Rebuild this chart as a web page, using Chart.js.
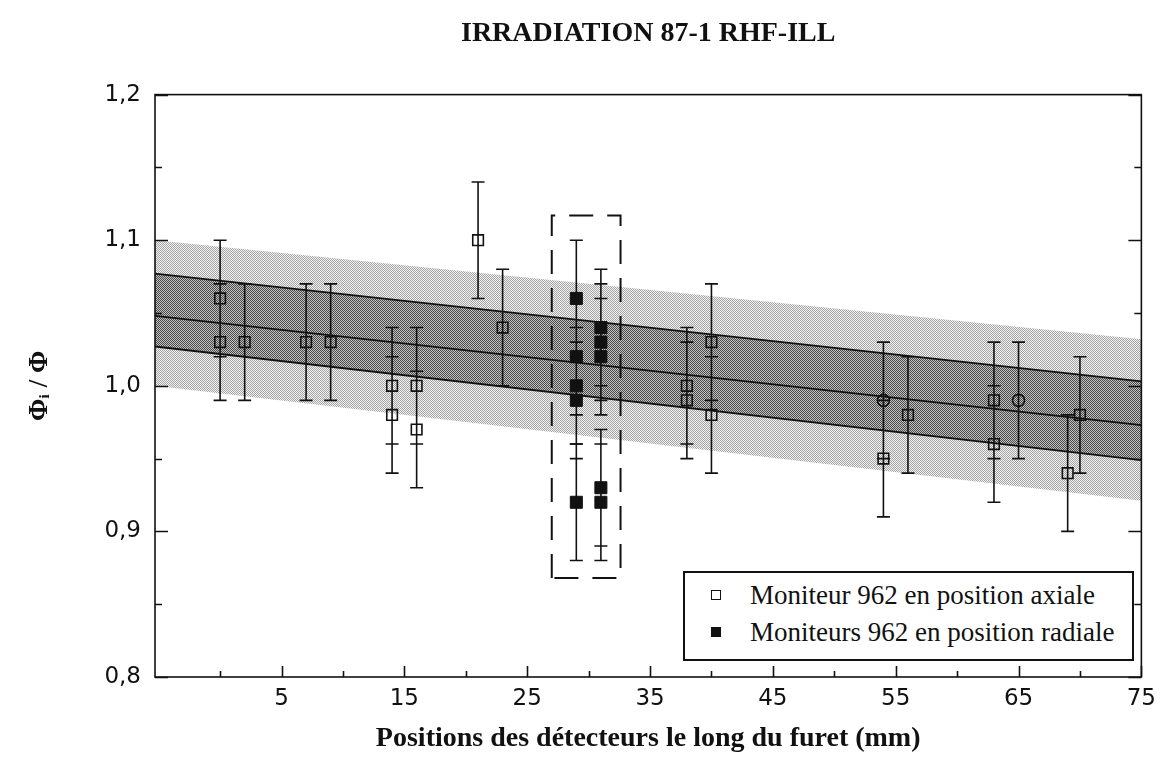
<!DOCTYPE html>
<html lang="fr">
<head>
<meta charset="utf-8">
<title>IRRADIATION 87-1 RHF-ILL</title>
<script src="https://cdn.jsdelivr.net/npm/chart.js@4.4.1/dist/chart.umd.min.js"></script>
<style>
    html, body { margin: 0; padding: 0; background: #fff; }
    #wrap { position: relative; width: 1164px; height: 760px; }
    #legendBox {
        position: absolute; left: 683px; top: 571px; width: 447px; height: 86px;
        border: 2px solid #111; background: #fff;
        font-family: 'Liberation Serif', 'Times New Roman', serif; font-size: 27px; color: #111;
    }
    .row { position: absolute; left: 0; height: 34px; line-height: 34px; white-space: nowrap; }
    .row span.mk { position: absolute; left: 26px; top: 12px; width: 8px; height: 8px; border: 1.5px solid #111; }
    .row span.mk.full { background: #111; }
    .row span.txt { position: absolute; left: 65px; top: 0; }
</style>
</head>
<body>
<div id="wrap">
    <canvas id="irrChart" width="1164" height="760"></canvas>
    <div id="legendBox">
        <div class="row" style="top:5px"><span class="mk"></span><span class="txt">Moniteur 962 en position axiale</span></div>
        <div class="row" style="top:42px"><span class="mk full"></span><span class="txt">Moniteurs 962 en position radiale</span></div>
    </div>
</div>
<script>
// --- données ---
const axialX   = [0, 0, 2, 7, 9, 14, 14, 16, 16, 21, 23, 38, 38, 40, 40, 54, 54, 56, 63, 63, 65, 69, 70];
const axialY   = [1.06, 1.03, 1.03, 1.03, 1.03, 1.00, 0.98, 1.00, 0.97, 1.10, 1.04, 1.00, 0.99, 1.03, 0.98, 0.99, 0.95, 0.98, 0.99, 0.96, 0.99, 0.94, 0.98];
const axialErr = [0.04, 0.04, 0.04, 0.04, 0.04, 0.04, 0.04, 0.04, 0.04, 0.04, 0.04, 0.04, 0.04, 0.04, 0.04, 0.04, 0.04, 0.04, 0.04, 0.04, 0.04, 0.04, 0.04];
const circledPoints = [15, 20];

const radialX   = [29, 29, 29, 29, 29, 31, 31, 31, 31, 31];
const radialY   = [1.06, 1.02, 1.00, 0.99, 0.92, 1.04, 1.03, 1.02, 0.93, 0.92];
const radialErr = [0.04, 0.04, 0.04, 0.04, 0.04, 0.04, 0.04, 0.04, 0.04, 0.04];

// bandes (ajustement linéaire et enveloppes), aux deux bords de l'axe
const bandX      = [-5.3, 75];
const outerUpper = [1.100, 1.032];
const outerLower = [1.000, 0.921];
const innerUpper = [1.077, 1.003];
const innerLower = [1.027, 0.949];
const fitLine    = [1.048, 0.973];

// cadre pointillé autour des moniteurs radiaux
const boxX = [27.0, 32.6];
const boxY = [0.868, 1.117];

// graduations
const xMajorTicks = [5, 15, 25, 35, 45, 55, 65, 75];
const xMinorTicks = [0, 10, 20, 30, 40, 50, 60, 70];
const yMajorTicks = [0.8, 0.9, 1.0, 1.1, 1.2];
const yMinorTicks = [0.85, 0.95, 1.05, 1.15];

const ink = '#111';

function makePattern(dot, bg) {
    const p = document.createElement('canvas');
    p.width = 2; p.height = 2;
    const g = p.getContext('2d');
    g.fillStyle = bg; g.fillRect(0, 0, 2, 2);
    g.fillStyle = dot; g.fillRect(0, 0, 1, 1); g.fillRect(1, 1, 1, 1);
    return g.createPattern(p, 'repeat');
}
const outerFill = makePattern('#a4a4a4', '#f2f2f2');
const innerFill = makePattern('#4c4c4c', '#c0c0c0');

const toPts = (xs, ys) => xs.map((x, i) => ({ x: x, y: ys[i] }));

const errorPts = [];
[[axialX, axialY, axialErr], [radialX, radialY, radialErr]].forEach(([xs, ys, es]) => {
    xs.forEach((x, i) => {
        errorPts.push({ x: x, y: ys[i] - es[i] }, { x: x, y: ys[i] + es[i] }, { x: x, y: null });
    });
});

const boxPts = [
    { x: boxX[0], y: boxY[0] }, { x: boxX[0], y: boxY[1] },
    { x: boxX[1], y: boxY[1] }, { x: boxX[1], y: boxY[0] }, { x: boxX[0], y: boxY[0] }
];

// cadre + graduations tournées vers l'intérieur
const frameTicks = {
    id: 'frameTicks',
    afterDatasetsDraw(chart) {
        const { ctx, chartArea: a, scales: { x, y } } = chart;
        ctx.save();
        ctx.strokeStyle = ink;
        ctx.lineWidth = 1.6;
        ctx.strokeRect(a.left, a.top, a.right - a.left, a.bottom - a.top);
        ctx.beginPath();
        const yt = (v, len) => {
            const py = Math.round(y.getPixelForValue(v)) + 0.5;
            ctx.moveTo(a.left, py); ctx.lineTo(a.left + len, py);
            ctx.moveTo(a.right, py); ctx.lineTo(a.right - len, py);
        };
        const xt = (v, len) => {
            const px = Math.round(x.getPixelForValue(v)) + 0.5;
            ctx.moveTo(px, a.bottom); ctx.lineTo(px, a.bottom - len);
        };
        yMajorTicks.forEach(v => yt(v, 13));
        yMinorTicks.forEach(v => yt(v, 7));
        xMajorTicks.forEach(v => xt(v, 11));
        xMinorTicks.forEach(v => xt(v, 6));
        ctx.stroke();
        ctx.restore();
    }
};

new Chart(document.getElementById('irrChart'), {
    type: 'scatter',
    data: {
        datasets: [
            { data: toPts(bandX, outerUpper), showLine: true, fill: 1, backgroundColor: outerFill, borderWidth: 0, pointRadius: 0, order: 10 },
            { data: toPts(bandX, outerLower), showLine: true, borderWidth: 0, pointRadius: 0, order: 10 },
            { data: toPts(bandX, innerUpper), showLine: true, fill: 3, backgroundColor: innerFill, borderColor: ink, borderWidth: 1.8, pointRadius: 0, order: 9 },
            { data: toPts(bandX, innerLower), showLine: true, borderColor: ink, borderWidth: 1.8, pointRadius: 0, order: 9 },
            { data: toPts(bandX, fitLine), showLine: true, borderColor: ink, borderWidth: 1.8, pointRadius: 0, order: 8 },
            { data: boxPts, showLine: true, borderColor: ink, borderWidth: 2, borderDash: [24, 14], pointRadius: 0, order: 7 },
            {
                data: errorPts, showLine: true, spanGaps: false, borderColor: ink, borderWidth: 1.6,
                pointStyle: 'line', pointRadius: 6.5, pointBorderWidth: 1.6, pointBorderColor: ink, order: 3
            },
            {
                label: 'Moniteur 962 en position axiale',
                data: toPts(axialX, axialY),
                pointStyle: ctx => circledPoints.includes(ctx.dataIndex) ? 'circle' : 'rect',
                pointRadius: ctx => circledPoints.includes(ctx.dataIndex) ? 6 : 7.5,
                pointBorderWidth: 1.6, pointBorderColor: ink, pointBackgroundColor: 'rgba(0,0,0,0)', order: 1
            },
            {
                label: 'Moniteurs 962 en position radiale',
                data: toPts(radialX, radialY),
                pointStyle: 'rect', pointRadius: 8.5, pointBorderWidth: 1, pointBorderColor: ink, pointBackgroundColor: ink, order: 1
            }
        ]
    },
    options: {
        responsive: false,
        animation: false,
        events: [],
        layout: { padding: { left: 0, right: 19, top: 0, bottom: 0 } },
        plugins: {
            legend: { display: false },
            tooltip: { enabled: false },
            filler: { drawTime: 'beforeDatasetsDraw' },
            title: {
                display: true,
                fullSize: false,
                text: 'IRRADIATION 87-1 RHF-ILL',
                color: ink,
                font: { family: "'Liberation Serif', 'Times New Roman', serif", size: 28, weight: 'bold' },
                padding: { top: 17, bottom: 44 }
            }
        },
        scales: {
            x: {
                type: 'linear', min: -5.3, max: 75,
                afterBuildTicks: s => { s.ticks = xMajorTicks.map(v => ({ value: v })); },
                afterFit: s => { s.height = 83; },
                grid: { display: false, drawTicks: false },
                border: { display: false },
                ticks: { color: ink, padding: 8, maxRotation: 0, font: { family: "'DejaVu Sans', sans-serif", size: 23 } },
                title: {
                    display: true,
                    text: 'Positions des détecteurs le long du furet (mm)',
                    color: ink,
                    font: { family: "'Liberation Serif', 'Times New Roman', serif", size: 28, weight: 'bold' },
                    padding: { top: 0, bottom: 4 }
                }
            },
            y: {
                type: 'linear', min: 0.8, max: 1.2,
                afterBuildTicks: s => { s.ticks = yMajorTicks.map(v => ({ value: v })); },
                afterFit: s => { s.width = 155; },
                grid: { display: false, drawTicks: false },
                border: { display: false },
                ticks: {
                    color: ink, padding: 14, font: { family: "'DejaVu Sans', sans-serif", size: 23 },
                    callback: v => v.toFixed(1).replace('.', ',')
                },
                title: {
                    display: true,
                    text: 'Φᵢ / Φ',
                    color: ink,
                    font: { family: "'Liberation Serif', 'DejaVu Serif', serif", size: 27, weight: 'bold' },
                    padding: { top: 24, bottom: 0 }
                }
            }
        }
    },
    plugins: [frameTicks]
});
</script>
</body>
</html>
